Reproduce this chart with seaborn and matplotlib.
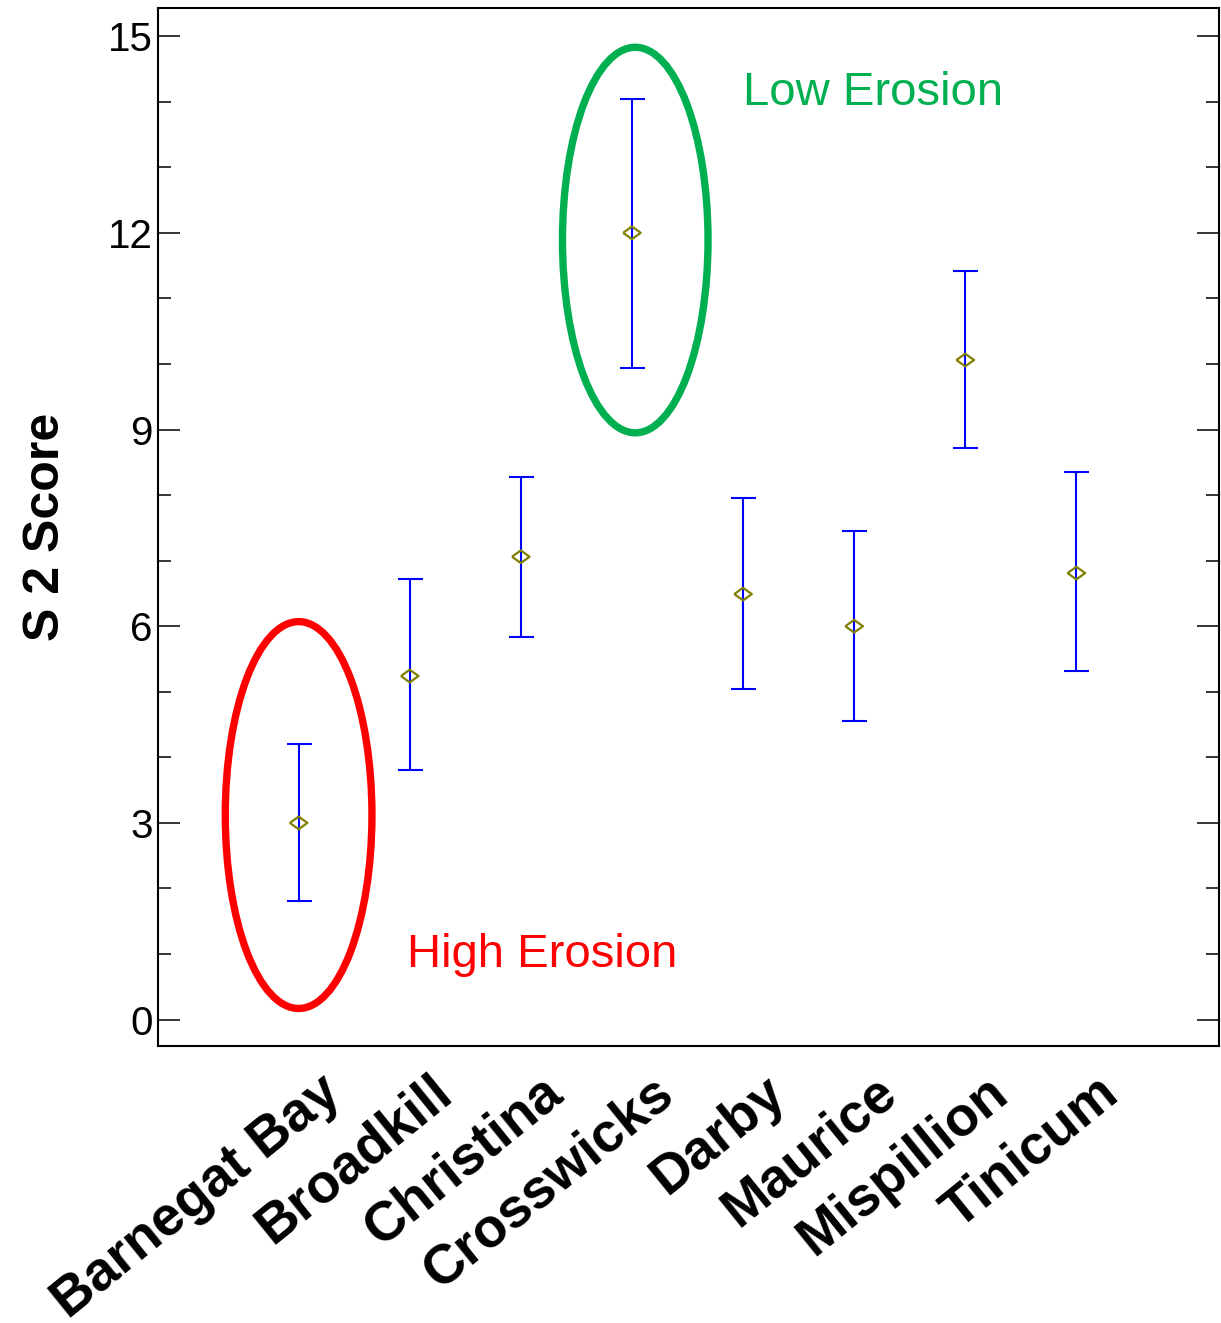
import numpy as np
import pandas as pd
import matplotlib
matplotlib.use("Agg")
import matplotlib.pyplot as plt
from matplotlib.patches import Ellipse
from matplotlib.ticker import MultipleLocator
import seaborn as sns

sites = ["Barnegat Bay", "Broadkill", "Christina", "Crosswicks",
         "Darby", "Maurice", "Mispillion", "Tinicum"]
means = [3.0, 5.24, 7.06, 12.0, 6.49, 6.0, 10.06, 6.81]
upper = [4.21, 6.72, 8.28, 14.04, 7.96, 7.45, 11.42, 8.35]
lower = [1.81, 3.81, 5.84, 9.94, 5.05, 4.56, 8.72, 5.32]


def main():
    sns.set_theme(style="ticks")
    plt.rcParams["font.family"] = ["Liberation Sans", "DejaVu Sans"]
    plt.rcParams["text.color"] = "black"

    df = pd.DataFrame({"site": sites, "score": means})
    x = np.arange(len(sites))
    err = np.array([np.array(means) - np.array(lower),
                    np.array(upper) - np.array(means)])

    fig = plt.figure(figsize=(12.21, 13.23), dpi=100)
    ax = fig.add_axes([0.129, 0.209, 0.869, 0.785])

    ax.errorbar(x, means, yerr=err, fmt="none", ecolor="#0000ff",
                elinewidth=1.5, capsize=9, capthick=1.5, zorder=2)
    diamond = [(-1, 0), (0, 0.72), (1, 0), (0, -0.72), (-1, 0)]
    sns.scatterplot(data=df, x="site", y="score", marker=diamond, s=160,
                    facecolor="none", edgecolor="#808000", linewidth=1.6,
                    ax=ax, zorder=3)

    # highlight ellipses
    ax.add_patch(Ellipse((0, 3.12), 1.32, 5.9, fill=False,
                         edgecolor="#ff0000", linewidth=5.3, zorder=1))
    ax.add_patch(Ellipse((3.03, 11.89), 1.31, 5.88, fill=False,
                         edgecolor="#00b050", linewidth=5.3, zorder=1))
    ax.text(4.0, 14.13, "Low Erosion", color="#00b050", fontsize=34,
            va="center", ha="left")
    ax.text(0.98, 0.98, "High Erosion", color="#ff0000", fontsize=34,
            va="center", ha="left")

    ax.set_xlim(-1.27, 8.28)
    ax.set_ylim(-0.41, 15.43)
    ax.yaxis.set_major_locator(MultipleLocator(3))
    ax.yaxis.set_minor_locator(MultipleLocator(1))
    ax.tick_params(axis="y", which="both", direction="in", left=True,
                   right=True, labelsize=29, width=1.1, colors="black")
    ax.tick_params(axis="y", which="major", length=16)
    ax.tick_params(axis="y", which="minor", length=9.5)
    ax.tick_params(axis="x", length=0, pad=0, colors="black")
    ax.set_xticks(x)
    ax.set_xticklabels(sites, rotation=39, ha="right", va="center",
                       rotation_mode="anchor", fontsize=39.5,
                       fontweight="bold")
    for lab in ax.get_xticklabels():
        lab.set_transform(lab.get_transform() +
                          matplotlib.transforms.ScaledTranslation(
                              0.36, -0.40, fig.dpi_scale_trans))

    ax.set_xlabel("")
    ax.set_ylabel("S 2 Score", fontsize=36, fontweight="bold",
                  labelpad=28, color="black")
    for sp in ax.spines.values():
        sp.set_visible(True)
        sp.set_linewidth(1.5)
        sp.set_color("black")

    fig.savefig("out.png", dpi=100)


if __name__ == "__main__":
    main()
